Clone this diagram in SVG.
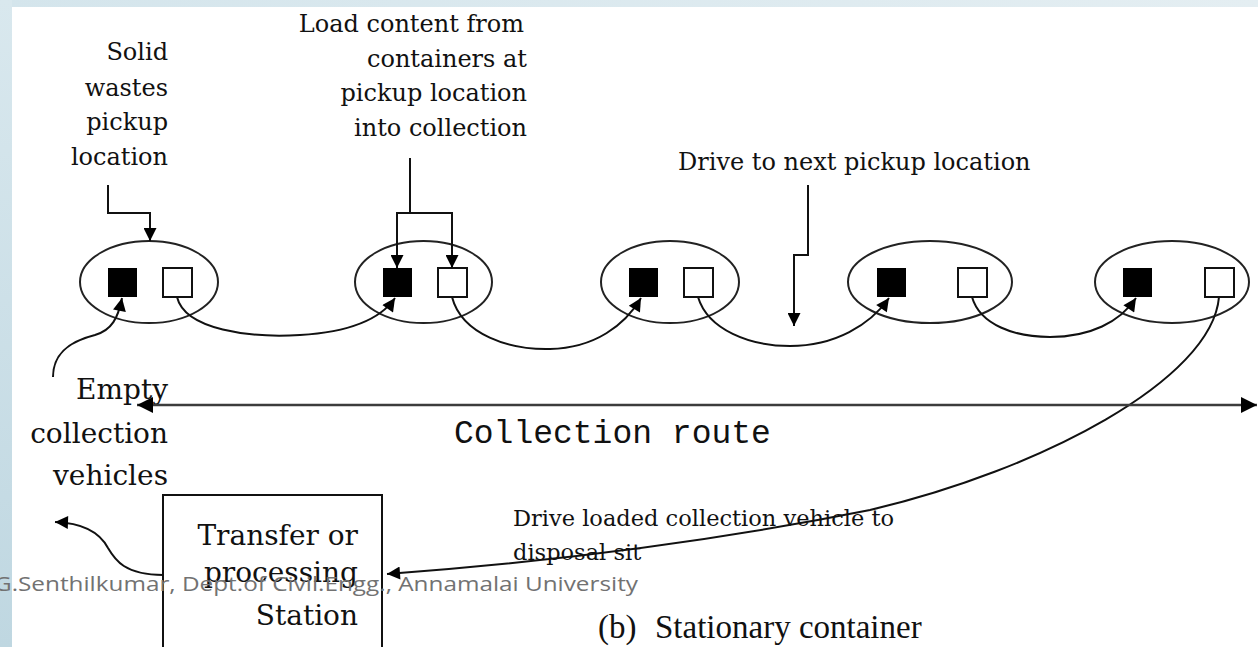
<svg xmlns="http://www.w3.org/2000/svg" width="1258" height="647" viewBox="0 0 1258 647">
  <defs>
    <linearGradient id="sideBand" x1="0" y1="0" x2="0" y2="1">
      <stop offset="0" stop-color="#d9e8ee"/>
      <stop offset="1" stop-color="#bfd7e1"/>
    </linearGradient>
    <linearGradient id="topBand" x1="0" y1="0" x2="1" y2="0">
      <stop offset="0" stop-color="#d4e5ec"/>
      <stop offset="1" stop-color="#e4eef2"/>
    </linearGradient>
    <marker id="arrow" viewBox="0 0 10 10" refX="10" refY="5" markerUnits="userSpaceOnUse" markerWidth="16" markerHeight="13" orient="auto">
      <path d="M0,0 L10,5 L0,10 Z" fill="#000"/>
    </marker>
    <marker id="arrowBig" viewBox="0 0 10 10" refX="10" refY="5" markerUnits="userSpaceOnUse" markerWidth="18" markerHeight="16" orient="auto-start-reverse">
      <path d="M0,0 L10,5 L0,10 Z" fill="#000"/>
    </marker>
    <style>
      .lbl { font-family: "DejaVu Serif", "Liberation Serif", serif; fill: #111; }
      .s24 { font-size: 24px; }
      .s28 { font-size: 28px; }
      .s22 { font-size: 22.5px; }
      .end { text-anchor: end; }
      .site { fill: none; stroke: #222; stroke-width: 2; }
      .full { fill: #000; }
      .empty { fill: #fff; stroke: #111; stroke-width: 2; }
      .link { fill: none; stroke: #111; stroke-width: 2; }
      .mono { font-family: "Liberation Mono", "Courier New", monospace; font-size: 33px; fill: #111; }
      .caption { font-family: "Liberation Serif", "Times New Roman", serif; font-size: 33px; fill: #111; }
      .credit { font-family: "Open Sans", "Liberation Sans", sans-serif; font-size: 20px; fill: #727272; }
    </style>
  </defs>

  <!-- page background -->
  <rect x="0" y="0" width="1258" height="647" fill="#fff"/>
  <rect x="0" y="0" width="1258" height="7" fill="url(#topBand)"/>
  <rect x="0" y="0" width="12" height="647" fill="url(#sideBand)"/>

  <!-- annotation labels -->
  <g id="label-pickup">
    <text class="lbl s24 end" x="168" y="60">Solid</text>
    <text class="lbl s24 end" x="168" y="96">wastes</text>
    <text class="lbl s24 end" x="168" y="130">pickup</text>
    <text class="lbl s24 end" x="168" y="165">location</text>
  </g>
  <g id="label-load">
    <text class="lbl s24 end" x="524" y="32">Load content from</text>
    <text class="lbl s24 end" x="527" y="67">containers at</text>
    <text class="lbl s24 end" x="527" y="101">pickup location</text>
    <text class="lbl s24 end" x="527" y="136">into collection</text>
  </g>
  <g id="label-drive">
    <text class="lbl s24" x="678" y="170">Drive to next pickup location</text>
  </g>
  <g id="label-empty">
    <text class="lbl s28 end" x="168" y="399">Empty</text>
    <text class="lbl s28 end" x="168" y="443">collection</text>
    <text class="lbl s28 end" x="168" y="485">vehicles</text>
  </g>
  <g id="label-route">
    <text class="mono" x="454" y="443">Collection route</text>
  </g>
  <g id="label-disposal">
    <text class="lbl s22" x="513" y="526">Drive loaded collection vehicle to</text>
    <text class="lbl s22" x="513" y="560">disposal sit</text>
  </g>

  <!-- pickup locations: loaded container (filled) and emptied container (open) -->
  <g id="site-1">
    <ellipse class="site" cx="149" cy="282" rx="69" ry="41"/>
    <rect class="full" x="108" y="268" width="29" height="29"/>
    <rect class="empty" x="163" y="268" width="29" height="29"/>
  </g>
  <g id="site-2">
    <ellipse class="site" cx="423.5" cy="282" rx="68.5" ry="41"/>
    <rect class="full" x="383" y="268" width="29" height="29"/>
    <rect class="empty" x="438" y="268" width="29" height="29"/>
  </g>
  <g id="site-3">
    <ellipse class="site" cx="670" cy="282" rx="69" ry="41"/>
    <rect class="full" x="629" y="268" width="29" height="29"/>
    <rect class="empty" x="684" y="268" width="29" height="29"/>
  </g>
  <g id="site-4">
    <ellipse class="site" cx="930" cy="282" rx="82" ry="41"/>
    <rect class="full" x="877" y="268" width="29" height="29"/>
    <rect class="empty" x="958" y="268" width="29" height="29"/>
  </g>
  <g id="site-5">
    <ellipse class="site" cx="1172" cy="282" rx="77" ry="41"/>
    <rect class="full" x="1123" y="268" width="29" height="29"/>
    <rect class="empty" x="1205" y="268" width="29" height="29"/>
  </g>

  <!-- transfer / processing station -->
  <g id="station">
    <rect x="163" y="495" width="219" height="170" fill="#fff" stroke="#111" stroke-width="2"/>
    <text class="lbl s28 end" x="358" y="545">Transfer or</text>
    <text class="lbl s28 end" x="358" y="582">processing</text>
    <text class="lbl s28 end" x="358" y="625">Station</text>
  </g>

  <!-- connectors -->
  <g id="connectors">
    <!-- callouts -->
    <path class="link" d="M108,185 V213 H150 V241" marker-end="url(#arrow)"/>
    <path class="link" d="M410,158 V213"/>
    <path class="link" d="M397,213 H452"/>
    <path class="link" d="M397,212 V268" marker-end="url(#arrow)"/>
    <path class="link" d="M452,212 V268" marker-end="url(#arrow)"/>
    <path class="link" d="M808,185 V255 H794 V326" marker-end="url(#arrow)"/>

    <!-- route between pickup locations -->
    <path class="link" d="M53,377 C53,350 75,340 95,335 C112,330 118,318 122,298" marker-end="url(#arrow)"/>
    <path class="link" d="M177,297 C185,330 250,338 300,335 C350,332 380,320 395,298" marker-end="url(#arrow)"/>
    <path class="link" d="M452,297 C462,335 510,350 550,349 C595,348 625,325 641,298" marker-end="url(#arrow)"/>
    <path class="link" d="M698,297 C708,330 750,346 790,346 C835,346 870,325 889,298" marker-end="url(#arrow)"/>
    <path class="link" d="M972,297 C980,325 1015,337 1050,337 C1090,337 1120,322 1136,298" marker-end="url(#arrow)"/>

    <!-- haul to the station and return -->
    <path class="link" d="M1219,297 C1212,380 1040,470 870,510 C720,540 550,562 387,574" marker-end="url(#arrow)"/>
    <path class="link" d="M163,575 C125,575 115,560 108,548 C100,533 85,523 55,522" marker-end="url(#arrow)"/>

    <!-- collection route extent -->
    <path d="M137,405 H1257" fill="none" stroke="#3c3c3c" stroke-width="2.5" marker-start="url(#arrowBig)" marker-end="url(#arrowBig)"/>
  </g>

  <!-- figure caption -->
  <g id="caption">
    <text class="caption" x="598" y="638">(b)</text>
    <text class="caption" x="655" y="638">Stationary container</text>
  </g>

  <!-- author credit line -->
  <text class="credit" x="-6" y="591" textLength="644" lengthAdjust="spacingAndGlyphs">G.Senthilkumar, Dept.of Civil.Engg., Annamalai University</text>
</svg>
